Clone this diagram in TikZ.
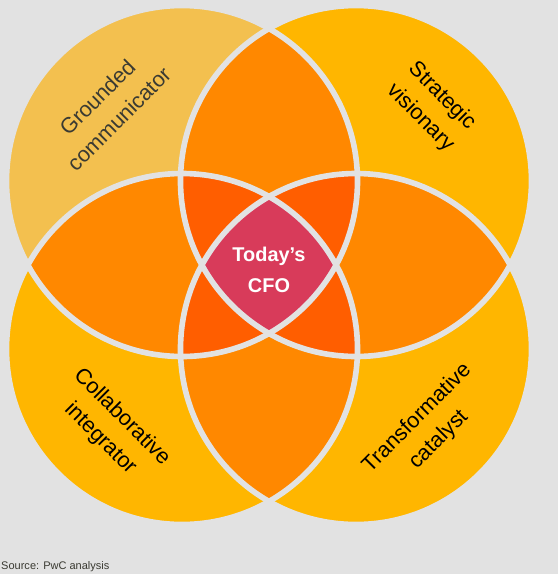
\documentclass[tikz,border=0pt]{standalone}
\usepackage{fontspec}
\setmainfont{Liberation Sans}
\definecolor{bggray}{HTML}{E2E2E2}
\definecolor{softgold}{HTML}{F3C04F}
\definecolor{pwcyellow}{HTML}{FFB600}
\definecolor{pwcorange}{HTML}{FF8800}
\definecolor{deeporange}{HTML}{FF5E00}
\definecolor{pwcrose}{HTML}{D83B5A}
\definecolor{inkgray}{HTML}{3A3A32}
\begin{document}
\begin{tikzpicture}[
      x=0.03cm, y=-0.03cm,
      % circle fills, one per overlap count
      base/.style={fill=pwcyellow},
      twoway/.style={fill=pwcorange},
      threeway/.style={fill=deeporange},
      allfour/.style={fill=pwcrose},
      sep/.style={draw=bggray, line width=4.8pt},
      role/.style={font=\fontsize{18.5}{26}\selectfont, align=center, text=black},
      hub/.style={font=\bfseries\fontsize{17}{27}\selectfont, align=center, text=white}
  ]
  \def\rad{175.5}

  % background and page size
  \fill[bggray] (0,0) rectangle (558,574);
  \useasboundingbox (0,0) rectangle (558,574);

  %%%%%%%%%%%%%%%%%%%%%%%%%%%%%%%%%%%%%%%%%%%%%%%%%%%%%%%%
  % (1) the four circle centres
  %%%%%%%%%%%%%%%%%%%%%%%%%%%%%%%%%%%%%%%%%%%%%%%%%%%%%%%%
  \coordinate (TL) at (182,181);
  \coordinate (TR) at (356,181);
  \coordinate (BL) at (182,349);
  \coordinate (BR) at (356,349);

  %%%%%%%%%%%%%%%%%%%%%%%%%%%%%%%%%%%%%%%%%%%%%%%%%%%%%%%%
  % (2) fills, layered by how many circles overlap
  %%%%%%%%%%%%%%%%%%%%%%%%%%%%%%%%%%%%%%%%%%%%%%%%%%%%%%%%
  \fill[softgold] (TL) circle[radius=\rad];
  \foreach \c in {TR,BL,BR}
    \fill[base] (\c) circle[radius=\rad];

  \foreach \a/\b in {TL/TR, TL/BL, TR/BR, BL/BR, TL/BR, TR/BL} {
    \begin{scope}
      \clip (\a) circle[radius=\rad];
      \fill[twoway] (\b) circle[radius=\rad];
    \end{scope}
  }

  \foreach \a/\b/\c in {TL/TR/BL, TL/TR/BR, TL/BL/BR, TR/BL/BR} {
    \begin{scope}
      \clip (\a) circle[radius=\rad];
      \clip (\b) circle[radius=\rad];
      \fill[threeway] (\c) circle[radius=\rad];
    \end{scope}
  }

  \begin{scope}
    \clip (TL) circle[radius=\rad];
    \clip (TR) circle[radius=\rad];
    \clip (BL) circle[radius=\rad];
    \fill[allfour] (BR) circle[radius=\rad];
  \end{scope}

  % gaps between the regions
  \foreach \c in {TL,TR,BL,BR}
    \draw[sep] (\c) circle[radius=\rad];

  %%%%%%%%%%%%%%%%%%%%%%%%%%%%%%%%%%%%%%%%%%%%%%%%%%%%%%%%
  % (3) labels
  %%%%%%%%%%%%%%%%%%%%%%%%%%%%%%%%%%%%%%%%%%%%%%%%%%%%%%%%
  \node[role, text=inkgray, rotate=45]  (grounded)  at (108,108) {Grounded\\communicator};
  \node[role, rotate=-45]               (strategic) at (431,107) {Strategic\\visionary};
  \node[role, rotate=-45]               (collab)    at (111,428) {Collaborative\\integrator};
  \node[role, rotate=45]                (transform) at (428,429) {Transformative\\catalyst};

  \node[hub] (cfo) at (269,270) {Today’s\\CFO};

  % footnote
  \node[anchor=base west, inner sep=0pt, font=\fontsize{9.4}{11}\selectfont, text=inkgray]
    (source) at (1,569) {Source: PwC analysis};

\end{tikzpicture}
\end{document}
